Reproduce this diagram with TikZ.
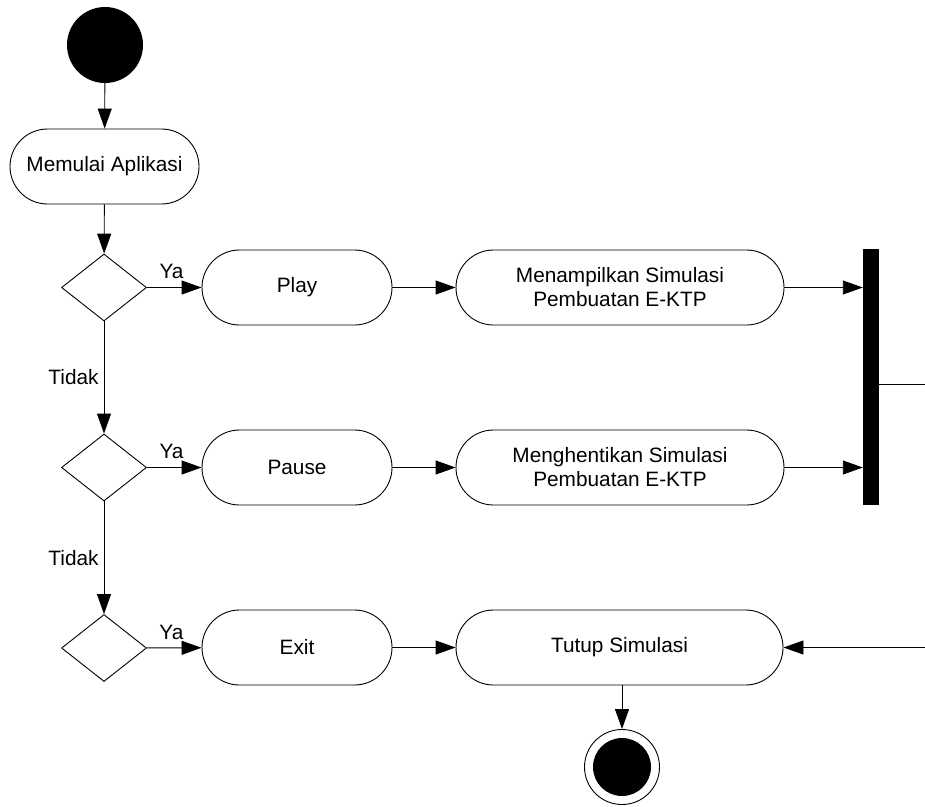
\documentclass[tikz,border=0pt]{standalone}
\usepackage{fontspec}
\setmainfont{Liberation Sans}
\usetikzlibrary{shapes.geometric,arrows.meta}
\begin{document}
\begin{tikzpicture}[x=1pt,y=-1pt,
  every node/.style={font=\fontsize{20.8}{24}\selectfont},
  act/.style={draw,line width=0.9pt,rectangle,rounded corners=37.5pt,minimum height=75pt,inner sep=0pt,align=center},
  dec/.style={draw,line width=0.9pt,diamond,minimum width=85pt,minimum height=67pt,inner sep=0pt},
  flow/.style={line width=0.9pt,-{Triangle[length=20pt,width=14pt]}},
  plain/.style={line width=0.9pt},
  lbl/.style={inner sep=4pt,yshift=4pt}]
\useasboundingbox (0,0) rectangle (925,806);
\node[circle,fill=black,minimum size=76pt,inner sep=0pt] (start) at (105,45) {};
\node[act,minimum width=189pt] (mulai) at (104.5,166.5) {Memulai Aplikasi};
\node[dec] (d1) at (104,287.5) {};
\node[dec] (d2) at (104,467.5) {};
\node[dec] (d3) at (104,648) {};
\node[act,minimum width=190pt] (play) at (297,287.5) {Play};
\node[act,minimum width=190pt] (pause) at (297,467.5) {Pause};
\node[act,minimum width=190pt] (exit) at (297,647.5) {Exit};
\node[act,minimum width=328pt] (tampil) at (620,287.5) {Menampilkan Simulasi\\Pembuatan E-KTP};
\node[act,minimum width=328pt] (henti) at (620,467.5) {Menghentikan Simulasi\\Pembuatan E-KTP};
\node[act,minimum width=327pt] (tutup) at (619.5,647.5) {Tutup Simulasi};
\node[rectangle,fill=black,minimum width=16pt,minimum height=256pt,inner sep=0pt] (bar) at (871,377) {};
\node[circle,draw,line width=0.9pt,minimum size=75pt,inner sep=0pt] (final) at (622,767) {};
\fill (final.center) circle (29pt);
\coordinate (out) at (925,384);
\coordinate (back) at (925,647.5);
\draw[flow] (start) -- (mulai);
\draw[flow] (mulai) -- (d1);
\draw[flow] (d1) -- node[lbl,above,pos=0.45] {Ya} (play);
\draw[flow] (d2) -- node[lbl,above,pos=0.45] {Ya} (pause);
\draw[flow] (d3) -- node[lbl,above,pos=0.45] {Ya} (exit);
\draw[flow] (d1) -- node[left,inner sep=5pt] {Tidak} (d2);
\draw[flow] (d2) -- node[left,inner sep=5pt] {Tidak} (d3);
\draw[flow] (play) -- (tampil);
\draw[flow] (pause) -- (henti);
\draw[flow] (exit) -- (tutup);
\draw[flow] (tampil.east) -- (tampil.east -| bar.west);
\draw[flow] (henti.east) -- (henti.east -| bar.west);
\draw[plain] (out -| bar.east) -- (out);
\draw[flow] (back) -- (tutup.east);
\draw[flow] (tutup.south -| final.north) -- (final.north);
\end{tikzpicture}
\end{document}
